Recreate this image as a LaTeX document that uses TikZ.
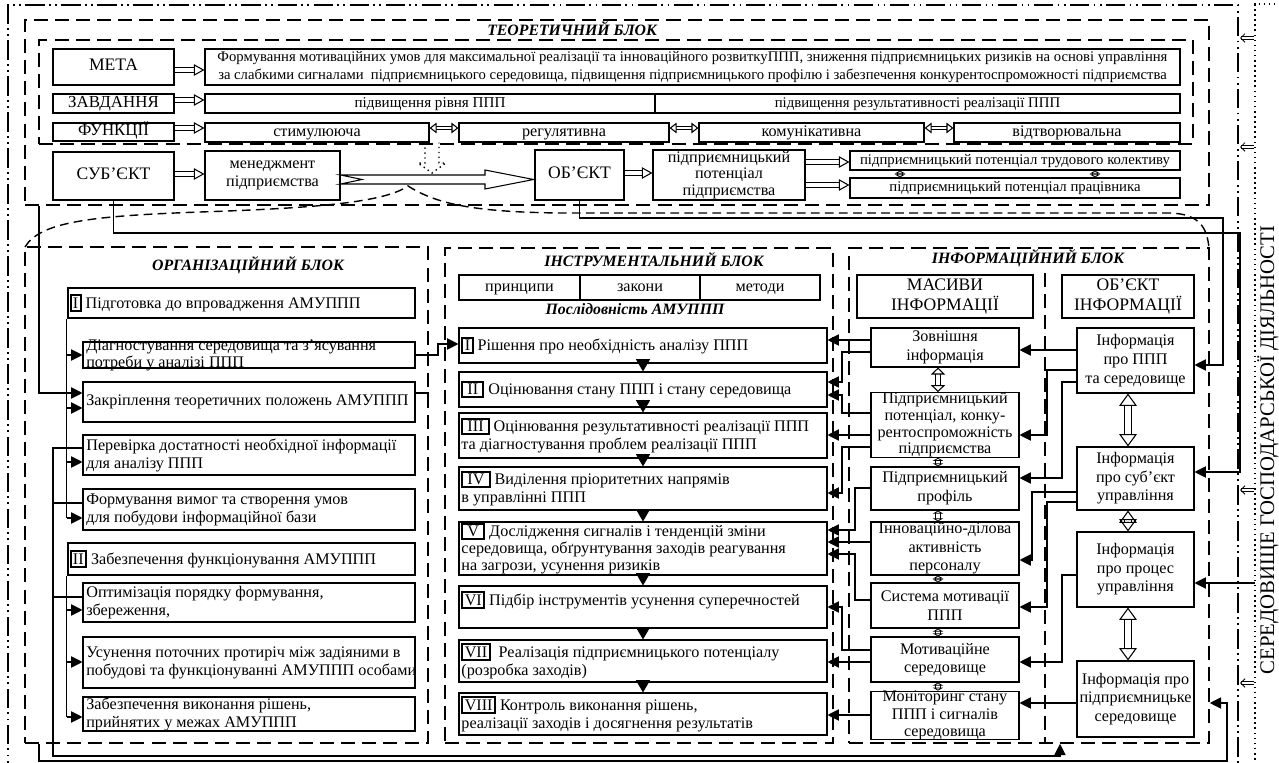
\documentclass[tikz,border=0pt]{standalone}
\usepackage{fontspec}
\setmainfont{Liberation Serif}
\usetikzlibrary{arrows.meta, fit, calc, positioning}
\newcommand{\fs}{\fontsize{9.2}{10.2}\selectfont}
\newcommand{\stepno}[1]{{\setlength{\fboxsep}{0.8pt}\setlength{\fboxrule}{1.1pt}\fbox{#1}}}

\begin{document}
\begin{tikzpicture}[x=0.02cm, y=-0.02cm,
  place/.style n args={4}{minimum width={(#3-#1)*0.02cm}, minimum height={(#4-#2)*0.02cm}, at={({(#1+#3)/2},{(#2+#4)/2})}},
  box/.style={draw, line width=0.6pt, inner sep=0pt, align=center, font=\fs},
  tbox/.style={box, line width=1.6pt, font=\fontsize{10}{11}\selectfont},
  one/.style={text height=6.5pt, text depth=2pt},
  txt/.style={inner sep=0pt, align=left, font=\fs},
  ibox/.style={box, font=\fontsize{9.2}{10.6}\selectfont},
  blk/.style={draw, line width=0.9pt, dash pattern=on 8pt off 4pt, inner sep=0pt},
  ttl/.style={font=\fontsize{9}{10}\selectfont\bfseries\itshape},
  arr/.style={line width=0.6pt, -{Triangle[length=6.5pt, width=6.5pt]}},
  darr/.style={double, double distance=1.8pt, line width=0.6pt, -{Triangle[open, length=6pt, width=6.5pt]}},
  dbar/.style={double, double distance=1.6pt, line width=0.6pt, {Triangle[open, length=4pt, width=6pt]}-{Triangle[open, length=4pt, width=6pt]}},
  midbar/.style={double, double distance=2.4pt, line width=0.6pt, {Triangle[open, length=4pt, width=8pt]}-{Triangle[open, length=4pt, width=8pt]}},
  bigbar/.style={double, double distance=3.5pt, line width=0.6pt, {Triangle[open, length=7pt, width=10pt]}-{Triangle[open, length=7pt, width=10pt]}},
  smallbar/.style={double, double distance=2pt, line width=0.55pt, {Triangle[open, length=1.8pt, width=6pt]}-{Triangle[open, length=1.8pt, width=6pt]}},
  envarr/.style={double, double distance=1.2pt, line width=0.5pt, -{Straight Barb[length=2.5pt, width=5pt]}}
]
\clip (0,0) rectangle (1279,763);

% frames
\draw [line width=0.8pt, dash pattern=on 11pt off 2.5pt on 1pt off 2.5pt on 1pt off 2.5pt] (8,780) -- (8,5) -- (1238,5) -- (1238,780);
\draw [dotted, line width=0.9pt] (1255,780) -- (1255,4) -- (1300,4);
\node (env) [rotate=90, font=\fontsize{11.8}{13}\selectfont] at (1268,450) {СЕРЕДОВИЩЕ ГОСПОДАРСЬКОЇ ДІЯЛЬНОСТІ};
\foreach \y in {38,147,490,683}
  \draw [envarr] (1254,\y) -- (1240,\y);

\node (theor) [blk, fit={(25,20)(1209,205)}] {};
\node (theorin) [blk, fit={(39,40)(1193,144)}] {};
\node (org) [blk, fit={(25,247)(428,743)}] {};
\node (instr) [blk, fit={(445,248)(833,743)}] {};
\node (info) [blk, fit={(849,248)(1209,743)}] {};
\draw [blk] (1045,273) -- (info.south -| 1045,0);

\node (theorttl) [ttl] at (572,29) {ТЕОРЕТИЧНИЙ БЛОК};
\node (orgttl) [ttl] at (248,265) {ОРГАНІЗАЦІЙНИЙ БЛОК};
\node (instrttl) [ttl] at (654,260) {ІНСТРУМЕНТАЛЬНИЙ БЛОК};
\node (seqttl) [ttl] at (635,309) {Послідовність АМУППП};
\node (infottl) [ttl] at (1028,258) {ІНФОРМАЦІЙНИЙ БЛОК};

% theoretical block
\node (meta) [tbox, one, place={53}{49}{174}{85}] {МЕТА};
\node (goal) [box, font=\fontsize{8.35}{10}\selectfont, place={205}{49}{1180}{85}] {Формування мотиваційних умов для максимальної реалізації та інноваційного розвиткуППП, зниження підприємницьких ризиків на основі управління\\за слабкими сигналами\ \ підприємницького середовища, підвищення підприємницького профілю і забезпечення конкурентоспроможності підприємства};
\node (zavd) [tbox, one, font=\fontsize{9.6}{11}\selectfont, place={53}{94}{174}{113}] {ЗАВДАННЯ};
\node (task1) [box, one, font=\fontsize{8.6}{10}\selectfont, place={205}{94}{655}{113}] {підвищення рівня ППП};
\node (task2) [box, one, font=\fontsize{8.4}{10}\selectfont, place={655}{94}{1180}{113}] {підвищення результативності реалізації ППП};
\node (func) [tbox, one, font=\fontsize{9.6}{11}\selectfont, place={53}{123}{174}{141}] {ФУНКЦІЇ};
\node (f1) [box, one, place={205}{123}{429}{142}] {стимулююча};
\node (f2) [box, one, place={459}{123}{669}{142}] {регулятивна};
\node (f3) [box, one, place={699}{123}{924}{142}] {комунікативна};
\node (f4) [box, one, place={954}{123}{1180}{142}] {відтворювальна};
\node (subj) [tbox, one, place={53}{152}{174}{200}] {СУБ’ЄКТ};
\node (mgmt) [box, place={205}{151}{340}{200}] {менеджмент\\підприємства};
\node (obj) [tbox, one, place={535}{150}{624}{200}] {ОБ’ЄКТ};
\node (pot) [box, font=\fontsize{9.2}{9.3}\selectfont, place={653}{150}{805}{200}] {підприємницький\\потенціал\\підприємства};
\node (ptk) [box, one, font=\fontsize{8.4}{10}\selectfont, place={850}{151}{1180}{170}] {підприємницький потенціал трудового колективу};
\node (ppr) [box, one, font=\fontsize{8.4}{10}\selectfont, place={850}{178}{1180}{198}] {підприємницький потенціал працівника};

\draw [darr] (meta.east |- 0,70) -- (goal.west |- 0,70);
\draw [darr] (zavd.east |- 0,100) -- (task1.west |- 0,100);
\draw [darr] (func.east |- 0,128) -- (f1.west |- 0,128);
\draw [darr] (subj.east |- 0,174) -- (mgmt.west |- 0,174);
\draw [darr] (obj.east |- 0,173) -- (pot.west |- 0,173);
\draw [darr] (pot.east |- 0,162) -- (ptk.west |- 0,162);
\draw [darr] (pot.east |- 0,185) -- (ppr.west |- 0,185);
\draw [dbar] (f1.east |- 0,128) -- (f2.west |- 0,128);
\draw [dbar] (f2.east |- 0,128) -- (f3.west |- 0,128);
\draw [dbar] (f3.east |- 0,128) -- (f4.west |- 0,128);
\draw [smallbar] (ptk.south -| 900,0) -- (ppr.north -| 900,0);
\draw [smallbar] (ptk.south -| 1095,0) -- (ppr.north -| 1095,0);

\draw [line width=0.6pt] (mgmt.east |- 0,175) -- (485,175) -- (485,170) -- (obj.west |- 0,179.5) -- (485,189) -- (485,184) -- (mgmt.east |- 0,184) -- (362,179.5) -- cycle;
\draw [dotted, line width=0.8pt] (f1.south -| 425,0) -- (425,163) -- (418,163) -- (432,173) -- (446,163) -- (439,163) -- (f1.south -| 439,0);
\draw [line width=0.8pt, dash pattern=on 5pt off 3pt] (25,247) .. controls (40,222) and (90,216) .. (200,212) .. controls (320,208) and (385,202) .. (408,186) .. controls (435,203) and (470,212) .. (560,213) -- (1170,213) .. controls (1200,214) and (1207,228) .. (1209,248);

% organisational block
\node (o1) [tbox, place={68}{288}{415}{318}] {};
\node (o2) [box, place={83}{342}{415}{368}] {};
\node (o3) [box, place={83}{382}{415}{422}] {};
\node (o4) [box, place={83}{435}{415}{475}] {};
\node (o5) [box, place={83}{489}{415}{530}] {};
\node (o6) [tbox, place={68}{543}{415}{575}] {};
\node (o7) [box, place={83}{583}{415}{622}] {};
\node (o8) [box, place={83}{637}{415}{688}] {};
\node (o9) [box, place={83}{697}{415}{731}] {};
\node (o1t) [txt, right=1.5pt of o1.west] {\stepno{I} Підготовка до впровадження АМУППП};
\node (o2t) [txt, font=\fontsize{9.2}{8.2}\selectfont, right=2pt of o2.west] {Діагностування середовища та з’ясування\\потреби у аналізі ППП};
\node (o3t) [txt, right=2pt of o3.west] {Закріплення теоретичних положень АМУППП};
\node (o4t) [txt, right=2pt of o4.west] {Перевірка достатності необхідної інформації\\для аналізу ППП};
\node (o5t) [txt, right=2pt of o5.west] {Формування вимог та створення умов\\для побудови інформаційної бази};
\node (o6t) [txt, right=1.5pt of o6.west] {\stepno{II} Забезпечення функціонування АМУППП};
\node (o7t) [txt, right=2pt of o7.west] {Оптимізація порядку формування,\\збереження,};
\node (o8t) [txt, right=2pt of o8.west] {Усунення поточних протиріч між задіяними в\\побудові та функціонуванні АМУППП особами};
\node (o9t) [txt, right=2pt of o9.west] {Забезпечення виконання рішень,\\прийнятих у межах АМУППП};

\draw [line width=0.6pt] (o1.south west) -- (o1.south west |- 0,518);
\foreach \n/\y in {o2/355, o3/408, o4/462, o5/518}
  \draw [arr] (o1.south west |- 0,\y) -- (\n.west |- 0,\y);
\draw [line width=0.6pt] (o6.south west) -- (o6.south west |- 0,717);
\foreach \n/\y in {o7/610, o8/662, o9/717}
  \draw [arr] (o6.south west |- 0,\y) -- (\n.west |- 0,\y);
\draw [arr] (theor.south -| 39,0) |- (o3.west |- 0,393);
\draw [line width=0.6pt] (o3.east |- 0,393) -- (org.east |- 0,393);
\draw [arr] (o4.west |- 0,448) -| (53,756) -| (info.south -| 1060,0);
\draw [line width=0.6pt] (o5.west |- 0,503) -- (53,503);
\draw [line width=0.6pt] (o7.west |- 0,597) -- (53,597);
\draw [arr] (org.south -| 39,0) |- (1227,761) |- (info.east |- 0,703);

% instrumental block
\node (pr) [tbox, one, font=\fs, place={459}{275}{580}{300}] {принципи};
\node (zk) [tbox, one, font=\fs, place={580}{275}{700}{300}] {закони};
\node (mt) [tbox, one, font=\fs, place={700}{275}{820}{300}] {методи};
\node (s1) [box, place={459}{328}{827}{363}] {};
\node (s2) [box, place={459}{372}{827}{407}] {};
\node (s3) [box, place={459}{413}{827}{458}] {};
\node (s4) [box, place={459}{467}{827}{510}] {};
\node (s5) [box, place={459}{522}{827}{575}] {};
\node (s6) [box, place={459}{586}{827}{628}] {};
\node (s7) [box, place={459}{640}{827}{682}] {};
\node (s8) [box, place={459}{693}{827}{735}] {};
\node (s1t) [txt, right=1.5pt of s1.west] {\stepno{I} Рішення про необхідність аналізу ППП};
\node (s2t) [txt, right=1.5pt of s2.west] {\stepno{\,II\,} Оцінювання стану ППП і стану середовища};
\node (s3t) [txt, right=1.5pt of s3.west] {\stepno{\,III\,} Оцінювання результативності реалізації ППП\\та діагностування проблем реалізації ППП};
\node (s4t) [txt, right=1.5pt of s4.west] {\stepno{\,IV\,} Виділення пріоритетних напрямів\\в управлінні ППП};
\node (s5t) [txt, font=\fontsize{9.2}{9.8}\selectfont, right=1.5pt of s5.west] {\stepno{\,V\,} Дослідження сигналів і тенденцій зміни\\середовища, обґрунтування заходів реагування\\на загрози, усунення ризиків};
\node (s6t) [txt, right=1.5pt of s6.west] {\stepno{VI} Підбір інструментів усунення суперечностей\\\mbox{}};
\node (s7t) [txt, right=1.5pt of s7.west] {\stepno{VII}\ \ Реалізація підприємницького потенціалу\\(розробка заходів)};
\node (s8t) [txt, right=1.5pt of s8.west] {\stepno{VIII} Контроль виконання рішень,\\реалізації заходів і досягнення результатів};

\foreach \a/\b in {s1/s2, s2/s3, s3/s4, s4/s5, s5/s6, s6/s7, s7/s8}
  \draw [line width=0.6pt, -{Triangle[length=7pt, width=8pt]}] (\a.south) -- (\b.north);
\draw [arr] (o2.east) -- (438,355) |- (s1.west |- 0,344);

% information block
\node (mas) [tbox, place={857}{275}{1033}{318}] {МАСИВИ\\ІНФОРМАЦІЇ};
\node (obi) [tbox, place={1062}{275}{1194}{318}] {ОБ’ЄКТ\\ІНФОРМАЦІЇ};
\node (i1) [ibox, place={871}{328}{1019}{367}] {Зовнішня\\інформація};
\node (i2) [ibox, font=\fontsize{9.2}{9.5}\selectfont, place={871}{393}{1019}{457}] {Підприємницький\\потенціал, конку-\\рентоспроможність\\підприємства};
\node (i3) [ibox, place={871}{467}{1019}{510}] {Підприємницький\\профіль};
\node (i4) [ibox, place={871}{522}{1019}{575}] {Інноваційно-ділова\\активність\\персоналу};
\node (i5) [ibox, place={871}{583}{1019}{628}] {Система мотивації\\ППП};
\node (i6) [ibox, place={871}{637}{1019}{682}] {Мотиваційне\\середовище};
\node (i7) [ibox, font=\fontsize{9.2}{9.8}\selectfont, place={871}{693}{1019}{738}] {Моніторинг стану\\ППП і сигналів\\середовища};
\node (r1) [ibox, place={1077}{328}{1194}{393}] {Інформація\\про ППП\\та середовище};
\node (r2) [ibox, place={1077}{447}{1194}{510}] {Інформація\\про суб’єкт\\управління};
\node (r3) [ibox, place={1077}{532}{1194}{607}] {Інформація\\про процес\\управління};
\node (r4) [ibox, place={1077}{661}{1194}{737}] {Інформація про\\підприємницьке\\середовище};

\draw [midbar] (i1.south -| 938,0) -- (i2.north -| 938,0);
\foreach \a/\b in {i2/i3, i3/i4, i4/i5, i5/i6, i6/i7}
  \draw [smallbar] (\a.south -| 938,0) -- (\b.north -| 938,0);
\foreach \a/\b in {r1/r2, r2/r3, r3/r4}
  \draw [bigbar] (\a.south -| 1128,0) -- (\b.north -| 1128,0);

\draw [arr] (r1.west |- 0,350) -- (i1.east |- 0,350);
\draw [arr] (r1.west |- 0,370) -| (1047,435) -- (i2.east |- 0,435);
\draw [arr] (r1.west |- 0,382) -| (1062,478) -- (i3.east |- 0,478);
\draw [arr] (r2.west |- 0,492) -| (1032,560) -- (i4.east |- 0,560);
\draw [arr] (r2.west |- 0,502) -| (1047,607) -- (i5.east |- 0,607);
\draw [arr] (r3.west |- 0,575) -| (1062,662) -- (i6.east |- 0,662);
\draw [arr] (r4.west |- 0,703) -- (i7.east |- 0,703);

\draw [arr] (i1.west |- 0,340) -- (s1.east |- 0,340);
\draw [arr] (i1.west |- 0,352) -| (842,382) -- (s2.east |- 0,382);
\draw [arr] (i2.west |- 0,413) -| (842,395) -- (s2.east |- 0,395);
\draw [arr] (i2.west |- 0,435) -- (s3.east |- 0,435);
\draw [arr] (i2.west |- 0,447) -| (842,493) -- (s4.east |- 0,493);
\draw [arr] (i3.west |- 0,488) -| (855,530) -- (s5.east |- 0,530);
\draw [arr] (i4.west |- 0,542) -- (s5.east |- 0,542);
\draw [arr] (i5.west |- 0,600) -| (855,554) -- (s5.east |- 0,554);
\draw [arr] (i6.west |- 0,650) -| (842,607) -- (s6.east |- 0,607);
\draw [arr] (i6.west |- 0,662) -- (s7.east |- 0,662);
\draw [arr] (i7.west |- 0,715) -- (s8.east |- 0,715);

% links from the theoretical block and the environment
\draw [arr] (subj.south) |- (1240,233) |- (r2.east |- 0,472);
\draw [arr] (obj.south) |- (1223,218) |- (r1.east |- 0,365);
\coordinate (envin) at (1255,583);
\draw [arr] (envin) -- (r3.east |- 0,583);
\end{tikzpicture}
\end{document}
